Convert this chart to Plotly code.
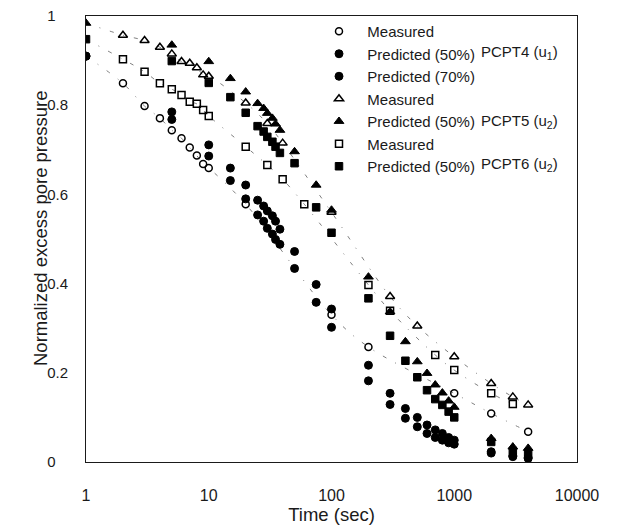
import plotly.graph_objects as go

# ---- data ----
t_pred = [1, 5, 10, 15, 20, 25, 28, 30, 33, 35, 38, 50, 75, 100, 200, 300, 400, 500,
          600, 700, 800, 900, 1000, 2000, 3000, 4000]

# PCPT4 (u1)
t_meas4 = [2, 3, 4, 5, 6, 7, 8, 9, 10, 20, 100, 200, 1000, 2000, 4000]
v_meas4 = [0.849, 0.798, 0.771, 0.744, 0.726, 0.705, 0.687, 0.668, 0.659, 0.578,
           0.330, 0.258, 0.154, 0.109, 0.068]
v_pred4_50 = [0.910, 0.785, 0.711, 0.659, 0.621, 0.587, 0.574, 0.563, 0.552, 0.540,
              0.522, 0.472, 0.398, 0.343, 0.217, 0.154, 0.120, 0.100, 0.083, 0.072,
              0.064, 0.055, 0.049, 0.023, 0.014, 0.010]
v_pred4_70 = [0.910, 0.768, 0.686, 0.631, 0.590, 0.554, 0.540, 0.524, 0.511, 0.499,
              0.488, 0.434, 0.358, 0.302, 0.182, 0.129, 0.098, 0.079, 0.064, 0.055,
              0.049, 0.043, 0.040, 0.020, 0.012, 0.008]

# PCPT5 (u2)
t_meas5 = [2, 3, 4, 5, 6, 7, 8, 9, 10, 20, 30, 40, 100, 300, 500, 1000, 2000, 3000, 4000]
v_meas5 = [0.957, 0.945, 0.930, 0.915, 0.898, 0.894, 0.884, 0.868, 0.865, 0.805,
           0.759, 0.715, 0.560, 0.371, 0.305, 0.236, 0.176, 0.146, 0.128]
v_pred5 = [0.984, 0.935, 0.898, 0.860, 0.830, 0.804, 0.793, 0.782, 0.771, 0.758,
           0.744, 0.696, 0.621, 0.565, 0.415, 0.337, 0.270, 0.225, 0.199, 0.173,
           0.155, 0.137, 0.123, 0.053, 0.034, 0.031]

# PCPT6 (u2)
t_meas6 = [2, 3, 4, 5, 6, 7, 8, 9, 10, 20, 30, 40, 60, 200, 300, 700, 1000, 2000, 3000]
v_meas6 = [0.903, 0.875, 0.849, 0.836, 0.823, 0.808, 0.803, 0.789, 0.776, 0.707,
           0.666, 0.634, 0.578, 0.397, 0.339, 0.240, 0.206, 0.154, 0.130]
v_pred6 = [0.948, 0.899, 0.850, 0.818, 0.783, 0.753, 0.741, 0.729, 0.718, 0.707,
           0.693, 0.670, 0.571, 0.514, 0.367, 0.283, 0.227, 0.190, 0.161, 0.141,
           0.128, 0.113, 0.100, 0.045, 0.025, 0.020]

x_ticks = [1, 10, 100, 1000, 10000]
x_ticktext = ["1", "10", "100", "1000", "10000"]
y_ticks = [0, 0.2, 0.4, 0.6, 0.8, 1]
y_ticktext = ["0", "0.2", "0.4", "0.6", "0.8", "1"]

FONT = "Liberation Sans, Arial, sans-serif"
INK = "#1a1a1a"
NBSP = "\u00a0"

# page has an 8px body margin; figure is sized to fit inside it
W, H = 609, 517
ML, MT, MR, MB = 78, 8, 40, 63
PW, PH = W - ML - MR, H - MT - MB

def px(xpage):
    return (xpage - 8 - ML) / PW

def py(ypage):
    return (H - MB - (ypage - 8)) / PH

fig = go.Figure()

# faint dash-dot fitted lines through the measured data (start from t=1 value)
for tm, vm, v0 in [(t_meas4, v_meas4, v_pred4_50[0]),
                   (t_meas5, v_meas5, v_pred5[0]),
                   (t_meas6, v_meas6, v_pred6[0])]:
    fig.add_trace(go.Scatter(x=[t_pred[0]] + tm, y=[v0] + vm, mode="lines",
                             line=dict(color="#808080", width=1, dash="4px,10px,1px,10px", shape="spline"),
                             showlegend=False, hoverinfo="skip"))

series = [
    ("Measured", t_meas4, v_meas4, "circle-open", 7),
    ("Predicted (50%)", t_pred, v_pred4_50, "circle", 8),
    ("Predicted (70%)", t_pred, v_pred4_70, "circle", 8),
    ("Measured", t_meas5, v_meas5, "triangle-up-open", 8),
    ("Predicted (50%)", t_pred, v_pred5, "triangle-up", 8.5),
    ("Measured", t_meas6, v_meas6, "square-open", 7),
    ("Predicted (50%)", t_pred, v_pred6, "square", 7.5),
]
for i, (name, tx, vy, sym, sz) in enumerate(series):
    m = dict(symbol=sym, size=sz, color="black",
             line=dict(color="black", width=1.5 if "open" in sym else 1))
    fig.add_trace(go.Scatter(x=tx, y=vy, mode="markers", name="  " + name,
                             marker=m))

# group labels next to the legend
for txt, ypage in [("PCPT4 (u<sub>1</sub>)", 52), ("PCPT5 (u<sub>2</sub>)", 121),
                   ("PCPT6 (u<sub>2</sub>)", 165)]:
    fig.add_annotation(text=txt, xref="paper", yref="paper",
                       x=px(479), y=py(ypage), xanchor="left", yanchor="middle",
                       showarrow=False, font=dict(size=15, color=INK, family=FONT))

# y-axis title
fig.add_annotation(text="Normalized excess pore pressure", xref="paper", yref="paper",
                   x=px(40), y=py(228), xanchor="center", yanchor="middle", textangle=-90,
                   showarrow=False, font=dict(size=18.5, color=INK, family=FONT))

# y tick labels are left-aligned in the reference: pad the short ones
y_ticktext_padded = [s + NBSP * 3 if len(s) == 1 else s for s in y_ticktext]

fig.update_layout(
    width=W, height=H,
    margin=dict(l=ML, r=MR, t=MT, b=MB, autoexpand=False),
    paper_bgcolor="white", plot_bgcolor="white",
    font=dict(family=FONT, size=15, color=INK),
    showlegend=True,
    legend=dict(x=px(319), y=py(15), xanchor="left", yanchor="top",
                bgcolor="rgba(0,0,0,0)", borderwidth=0, font=dict(size=15),
                tracegroupgap=0, traceorder="normal", itemsizing="trace"),
    xaxis=dict(type="log", range=[0, 4], tickvals=x_ticks, ticktext=x_ticktext,
               showgrid=False, zeroline=False, showline=True, linecolor=INK, linewidth=1,
               mirror=True, ticks="", ticklabelstandoff=19, automargin=False,
               ticklabeloverflow="allow",
               title=dict(text="Time (sec)", font=dict(size=18.5), standoff=2),
               tickfont=dict(size=16)),
    yaxis=dict(range=[0, 1.0], tickvals=y_ticks, ticktext=y_ticktext_padded,
               showgrid=False, zeroline=False, showline=True, linecolor=INK, linewidth=1,
               mirror=True, ticks="", ticklabelstandoff=14, automargin=False,
               ticklabeloverflow="allow",
               tickfont=dict(size=15)),
)

fig.write_html("out.html")
